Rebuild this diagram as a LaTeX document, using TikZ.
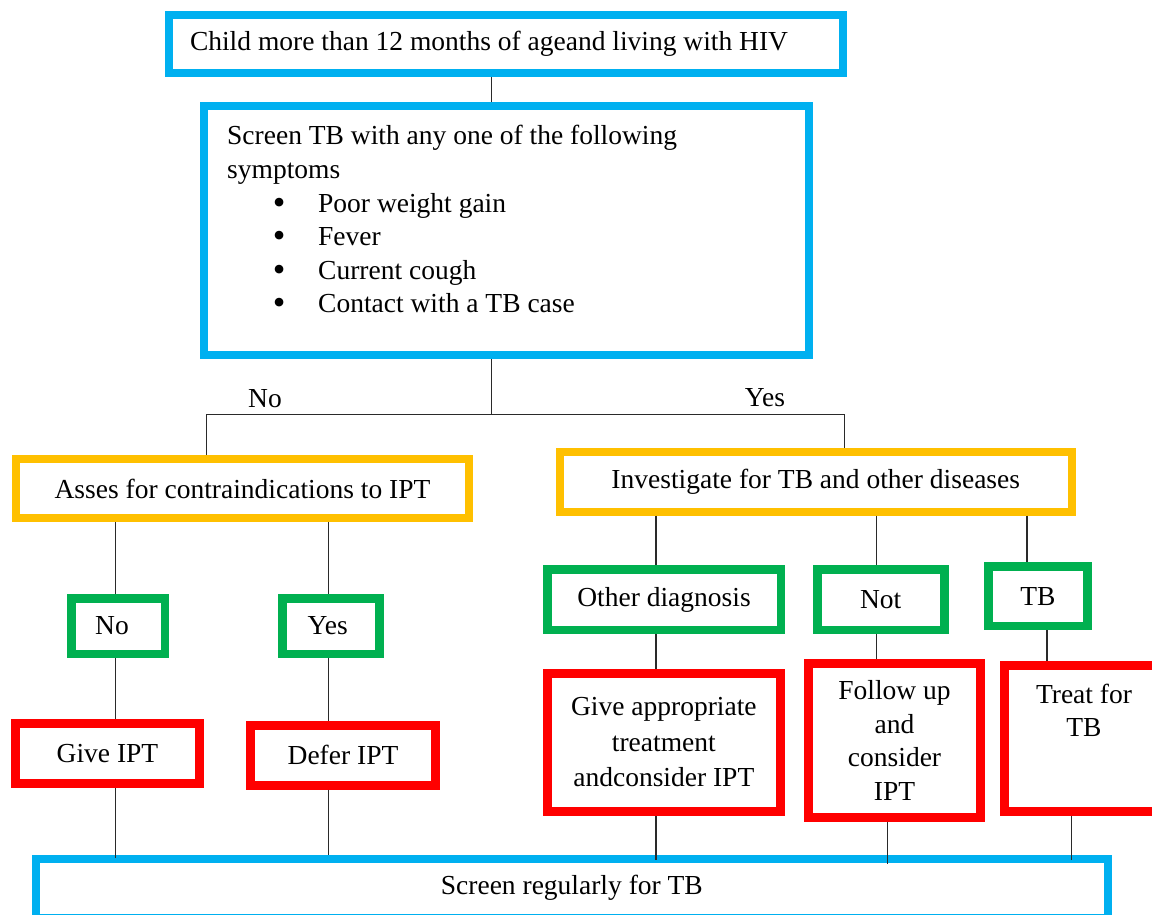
\documentclass[tikz,border=0pt]{standalone}
\usepackage{fontspec}
\setmainfont{Liberation Serif}
\definecolor{cblue}{HTML}{00B0F0}
\definecolor{cyel}{HTML}{FFC000}
\definecolor{cgrn}{HTML}{00B050}
\definecolor{cred}{HTML}{FF0000}
\definecolor{cline}{HTML}{2A2A2A}
\newcommand\bitem[1]{\hspace*{45pt}\makebox[14pt]{\smash{\raisebox{-2pt}{\fontsize{36}{36}\selectfont\textbullet}}}\hspace*{32pt}#1}
\begin{document}
\begin{tikzpicture}[x=1pt,y=-1pt,
  every node/.style={font=\fontsize{27.5}{33.6}\selectfont, inner sep=0pt},
  box/.style={draw, fill=white, inner sep=0pt, align=center},
  bluebox/.style={box, draw=cblue, line width=8pt},
  yelbox/.style={box, draw=cyel, line width=8pt},
  grnbox/.style={box, draw=cgrn, line width=8.5pt},
  redbox/.style={box, draw=cred, line width=9pt},
  conn/.style={draw=cline, line width=1.3pt}]
\useasboundingbox (0,0) rectangle (1152,915);
\clip (0,0) rectangle (1152,915);

% column coordinates
\coordinate (jM) at (491.8,414.7);
\coordinate (jL) at (206.7,414.7);
\coordinate (jR) at (844.2,414.7);
\coordinate (xA) at (115.5,0);
\coordinate (xB) at (328.4,0);
\coordinate (xC) at (656,0);
\coordinate (xD) at (876.3,0);
\coordinate (xE) at (1027,0);
\coordinate (xF) at (1047,0);
\coordinate (xG) at (887.6,0);
\coordinate (xH) at (1071.3,0);

% boxes
\node[bluebox, minimum width=674pt, minimum height=58pt, text width=632pt, inner xsep=21pt, align=flush left] (b1) at (506,44) {Child more than 12 months of ageand living with HIV};
\node[bluebox, minimum width=605pt, minimum height=249pt] (b2) at (506.5,230.5) {};
\node[anchor=base west] (b2t) at (227,145) {\begin{minipage}[t]{560pt}\setlength\parindent{0pt}\raggedright
Screen TB with any one of the following\\
symptoms\\
\bitem{Poor weight gain}\\
\bitem{Fever}\\
\bitem{Current cough}\\
\bitem{Contact with a TB case}\end{minipage}};

\node (lNo) at (265,399) {No};
\node (lYes) at (765,398) {Yes};

\node[yelbox, minimum width=453pt, minimum height=59pt] (b3) at (242.5,488.5) {Asses for contraindications to IPT};
\node[yelbox, minimum width=511.5pt, minimum height=59.5pt] (b4) at (815.75,481.75) {Investigate for TB and other diseases};

\node[grnbox, minimum width=93.5pt, minimum height=55.5pt] (gNo) at (118,626) {\hspace*{-12pt}No};
\node[grnbox, minimum width=97pt, minimum height=55.5pt] (gYes) at (330.75,626) {\hspace*{-6pt}Yes};
\node[grnbox, minimum width=233.5pt, minimum height=60.5pt] (gOther) at (664,599.5) {Other diagnosis};
\node[grnbox, minimum width=127pt, minimum height=60.5pt] (gNot) at (880.75,599.5) {Not};
\node[grnbox, minimum width=99.2pt, minimum height=59.2pt] (gTB) at (1037.85,596.15) {TB};

\node[redbox, minimum width=184pt, minimum height=60pt] (rGive) at (107.5,753.8) {Give IPT};
\node[redbox, minimum width=185pt, minimum height=60pt] (rDefer) at (343,755.2) {Defer IPT};
\node[redbox, minimum width=232.7pt, minimum height=138.3pt] (rAppr) at (663.85,742.35) {Give appropriate\\[2pt] treatment\\[2pt] andconsider IPT};
\node[redbox, minimum width=172.5pt, minimum height=153.4pt] (rFollow) at (894.55,740.5) {Follow up\\ and\\ consider\\ IPT};
\node[redbox, minimum width=159pt, minimum height=146.3pt] (rTreat) at (1084,738.35) {};
\node[anchor=base] (rTreatT) at (1084,703.3) {\begin{minipage}[t]{150pt}\centering Treat for\\ TB\end{minipage}};

\node[bluebox, minimum width=1072.7pt, minimum height=59pt] (bot) at (571.85,888) {Screen regularly for TB};

% connectors
\draw[conn] (b1.south -| jM) -- (b2.north -| jM);
\draw[conn] (b2.south -| jM) -- (jM);
\draw[conn] (b3.north -| jL) -- (jL) -- (jR) -- (b4.north -| jR);

\draw[conn] (b3.south -| xA) -- (gNo.north -| xA);
\draw[conn] (b3.south -| xB) -- (gYes.north -| xB);
\draw[conn] (gNo.south -| xA) -- (rGive.north -| xA);
\draw[conn] (gYes.south -| xB) -- (rDefer.north -| xB);
\draw[conn] (rGive.south -| xA) -- ([yshift=-3pt]bot.north -| xA);
\draw[conn] (rDefer.south -| xB) -- (bot.north -| xB);

\draw[conn] (b4.south -| xC) -- (gOther.north -| xC);
\draw[conn] (b4.south -| xD) -- (gNot.north -| xD);
\draw[conn] (b4.south -| xE) -- (gTB.north -| xE);
\draw[conn] (gOther.south -| xC) -- (rAppr.north -| xC);
\draw[conn] (gNot.south -| xD) -- (rFollow.north -| xD);
\draw[conn] (gTB.south -| xF) -- (rTreat.north -| xF);
\draw[conn] (rAppr.south -| xC) -- ([yshift=-5pt]bot.north -| xC);
\draw[conn] (rFollow.south -| xG) -- ([yshift=-9pt]bot.north -| xG);
\draw[conn] (rTreat.south -| xH) -- ([yshift=-5pt]bot.north -| xH);
\end{tikzpicture}
\end{document}
